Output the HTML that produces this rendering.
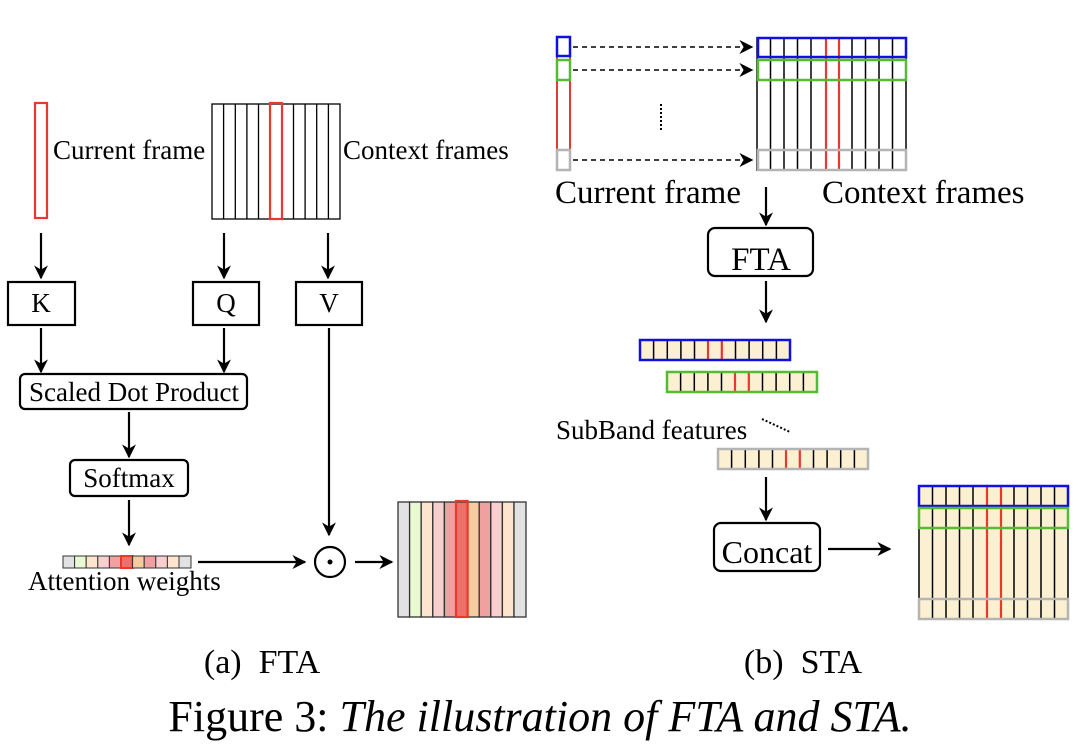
<!DOCTYPE html>
<html><head><meta charset="utf-8"><style>
html,body{margin:0;padding:0;background:#fff}
svg{display:block}
text{font-family:"Liberation Serif",serif;fill:#000}
</style></head><body>
<svg width="1080" height="748" viewBox="0 0 1080 748" xmlns="http://www.w3.org/2000/svg">
<defs>
<marker id="ah2" viewBox="0 0 10 10" refX="9" refY="5" markerWidth="14" markerHeight="14" markerUnits="userSpaceOnUse" orient="auto"><path d="M0,0 L10,5 L0,10 L3,5 z" fill="#000"/></marker>
<g id="sb">
<rect x="0" y="0" width="150" height="20" fill="#fcf0d2"/>
<g stroke="#000" stroke-width="1.5">
<line x1="13.6" y1="0" x2="13.6" y2="20"/><line x1="27.3" y1="0" x2="27.3" y2="20"/><line x1="40.9" y1="0" x2="40.9" y2="20"/><line x1="54.5" y1="0" x2="54.5" y2="20"/><line x1="81.8" y1="0" x2="81.8" y2="20"/><line x1="95.5" y1="0" x2="95.5" y2="20"/><line x1="109.1" y1="0" x2="109.1" y2="20"/><line x1="122.7" y1="0" x2="122.7" y2="20"/><line x1="136.4" y1="0" x2="136.4" y2="20"/>
</g>
<line x1="68" y1="0" x2="68" y2="20" stroke="#e8392c" stroke-width="2.2"/>
<line x1="81.8" y1="0" x2="81.8" y2="20" stroke="#e8392c" stroke-width="2.2"/>
</g>
</defs>
<g stroke="#000" stroke-width="2.2" fill="none">
<rect x="35" y="103" width="12" height="115" stroke="#e8392c"/>
<rect x="212" y="104" width="128" height="115" stroke-width="1.3"/>
<g stroke-width="1.3">
<line x1="223.6" y1="104" x2="223.6" y2="219"/><line x1="235.3" y1="104" x2="235.3" y2="219"/><line x1="246.9" y1="104" x2="246.9" y2="219"/><line x1="258.5" y1="104" x2="258.5" y2="219"/><line x1="270.2" y1="104" x2="270.2" y2="219"/><line x1="281.8" y1="104" x2="281.8" y2="219"/><line x1="293.5" y1="104" x2="293.5" y2="219"/><line x1="305.1" y1="104" x2="305.1" y2="219"/><line x1="316.7" y1="104" x2="316.7" y2="219"/><line x1="328.4" y1="104" x2="328.4" y2="219"/>
</g>
<rect x="270" y="103" width="12" height="116" stroke="#e8392c"/>
<line x1="41" y1="233" x2="41" y2="278" marker-end="url(#ah2)"/>
<line x1="224" y1="233" x2="224" y2="278" marker-end="url(#ah2)"/>
<line x1="328" y1="233" x2="328" y2="278" marker-end="url(#ah2)"/>
<rect x="8" y="282" width="67" height="43"/>
<rect x="193" y="282" width="66" height="43"/>
<rect x="296" y="282" width="66" height="43"/>
<line x1="41" y1="328" x2="41" y2="372" marker-end="url(#ah2)"/>
<line x1="224" y1="328" x2="224" y2="372" marker-end="url(#ah2)"/>
<rect x="20" y="374" width="227" height="35" rx="5"/>
<line x1="129" y1="412" x2="129" y2="457" marker-end="url(#ah2)"/>
<rect x="70" y="460" width="118" height="36" rx="5"/>
<line x1="129" y1="500" x2="129" y2="545" marker-end="url(#ah2)"/>
<line x1="329" y1="328" x2="329" y2="535" marker-end="url(#ah2)"/>
<line x1="198" y1="562" x2="305" y2="562" marker-end="url(#ah2)"/>
<circle cx="330" cy="562" r="15"/>
<line x1="355" y1="562" x2="392" y2="562" marker-end="url(#ah2)"/>
</g>
<circle cx="330" cy="562" r="2.5" fill="#000"/>
<g stroke="#333" stroke-width="1">
<rect x="63" y="556" width="11.6" height="12" fill="#e2e2e2"/>
<rect x="74.6" y="556" width="11.6" height="12" fill="#e9f9d2"/>
<rect x="86.2" y="556" width="11.6" height="12" fill="#fce5cc"/>
<rect x="97.8" y="556" width="11.6" height="12" fill="#f8cfcf"/>
<rect x="109.4" y="556" width="11.6" height="12" fill="#f0a0a0"/>
<rect x="121" y="556" width="11.6" height="12" fill="#ee706a" stroke="#e8392c" stroke-width="2"/>
<rect x="132.6" y="556" width="11.6" height="12" fill="#f6cba0"/>
<rect x="144.2" y="556" width="11.6" height="12" fill="#f0a0a0"/>
<rect x="155.8" y="556" width="11.6" height="12" fill="#f8cfcf"/>
<rect x="167.4" y="556" width="11.6" height="12" fill="#fce5cc"/>
<rect x="179" y="556" width="12" height="12" fill="#e2e2e2"/>
</g>
<g stroke="#333" stroke-width="1.3">
<rect x="398" y="502" width="11.6" height="115" fill="#e2e2e2"/>
<rect x="409.6" y="502" width="11.6" height="115" fill="#e9f9d2"/>
<rect x="421.2" y="502" width="11.6" height="115" fill="#fce5cc"/>
<rect x="432.8" y="502" width="11.6" height="115" fill="#f8cfcf"/>
<rect x="444.4" y="502" width="11.6" height="115" fill="#f0a0a0"/>
<rect x="456" y="502" width="11.6" height="115" fill="#ee706a"/>
<rect x="467.6" y="502" width="11.6" height="115" fill="#f6cba0"/>
<rect x="479.2" y="502" width="11.6" height="115" fill="#f0a0a0"/>
<rect x="490.8" y="502" width="11.6" height="115" fill="#f8cfcf"/>
<rect x="502.4" y="502" width="11.6" height="115" fill="#fce5cc"/>
<rect x="514" y="502" width="12" height="115" fill="#e2e2e2"/>
</g>
<rect x="456" y="501" width="11.6" height="116" fill="none" stroke="#e8392c" stroke-width="2.2"/>
<text x="53" y="159" font-size="27">Current frame</text>
<text x="343" y="159" font-size="27">Context frames</text>
<text x="41" y="312" font-size="27" text-anchor="middle">K</text>
<text x="226" y="312" font-size="27" text-anchor="middle">Q</text>
<text x="329" y="312" font-size="27" text-anchor="middle">V</text>
<text x="134" y="401" font-size="27" text-anchor="middle">Scaled Dot Product</text>
<text x="129" y="487" font-size="27" text-anchor="middle">Softmax</text>
<text x="28" y="590" font-size="27">Attention weights</text>

<g fill="none">
<line x1="557" y1="57" x2="557" y2="150" stroke="#e8392c" stroke-width="2"/>
<line x1="570" y1="57" x2="570" y2="150" stroke="#e8392c" stroke-width="2"/>
<g stroke="#000" stroke-width="1.5" stroke-dasharray="5,4">
<line x1="573" y1="47" x2="752" y2="47" marker-end="url(#ah2)"/>
<line x1="573" y1="70" x2="752" y2="70" marker-end="url(#ah2)"/>
<line x1="573" y1="160" x2="752" y2="160" marker-end="url(#ah2)"/>
</g>
<line x1="661" y1="104" x2="661" y2="131" stroke="#000" stroke-width="2" stroke-dasharray="2,2"/>
<g stroke="#000" stroke-width="1.5">
<line x1="757" y1="37" x2="757" y2="171"/><line x1="770.5" y1="37" x2="770.5" y2="171"/><line x1="784" y1="37" x2="784" y2="171"/><line x1="797.5" y1="37" x2="797.5" y2="171"/><line x1="811" y1="37" x2="811" y2="171"/><line x1="852" y1="37" x2="852" y2="171"/><line x1="865.5" y1="37" x2="865.5" y2="171"/><line x1="879" y1="37" x2="879" y2="171"/><line x1="892.5" y1="37" x2="892.5" y2="171"/><line x1="906" y1="37" x2="906" y2="171"/>
</g>
<line x1="826" y1="37" x2="826" y2="171" stroke="#e8392c" stroke-width="2.2"/>
<line x1="839" y1="37" x2="839" y2="171" stroke="#e8392c" stroke-width="2.2"/>
<rect x="557" y="37" width="13" height="19" stroke="#1010e0" stroke-width="2.5"/>
<rect x="557" y="60" width="13" height="20" stroke="#55bb33" stroke-width="2.5"/>
<rect x="557" y="150" width="13" height="20" stroke="#b4b4b4" stroke-width="2.5"/>
<rect x="758" y="38" width="148" height="19" stroke="#1010e0" stroke-width="2.5"/>
<rect x="758" y="60" width="148" height="20" stroke="#55bb33" stroke-width="2.5"/>
<rect x="758" y="150" width="148" height="20" stroke="#b4b4b4" stroke-width="2.5"/>
</g>
<text x="555" y="203" font-size="33">Current frame</text>
<text x="822" y="203" font-size="33">Context frames</text>
<g stroke="#000" stroke-width="2.2" fill="none">
<line x1="766" y1="187" x2="766" y2="225" marker-end="url(#ah2)"/>
<rect x="708" y="228" width="105" height="48" rx="7"/>
<line x1="766" y1="281" x2="766" y2="322" marker-end="url(#ah2)"/>
<line x1="766" y1="477" x2="766" y2="520" marker-end="url(#ah2)"/>
<rect x="714" y="523" width="106" height="48" rx="7"/>
<line x1="828" y1="549" x2="890" y2="549" marker-end="url(#ah2)"/>
<line x1="762" y1="419" x2="790" y2="432" stroke-width="2" stroke-dasharray="2,2"/>
</g>
<text x="761" y="270" font-size="33" text-anchor="middle">FTA</text>
<text x="767" y="563" font-size="32" text-anchor="middle">Concat</text>
<text x="556" y="439" font-size="27">SubBand features</text>
<use href="#sb" x="640" y="340"/>
<rect x="640" y="340" width="150" height="20" fill="none" stroke="#1010e0" stroke-width="2.5"/>
<use href="#sb" x="667" y="372"/>
<rect x="667" y="372" width="150" height="20" fill="none" stroke="#55bb33" stroke-width="2.5"/>
<use href="#sb" x="718" y="449"/>
<rect x="718" y="449" width="150" height="20" fill="none" stroke="#b4b4b4" stroke-width="2.5"/>
<rect x="919" y="486" width="149" height="134" fill="#fcf0d2"/>
<g stroke="#000" stroke-width="1.5">
<line x1="919" y1="486" x2="919" y2="620"/><line x1="932.5" y1="486" x2="932.5" y2="620"/><line x1="946" y1="486" x2="946" y2="620"/><line x1="959.5" y1="486" x2="959.5" y2="620"/><line x1="973" y1="486" x2="973" y2="620"/><line x1="1014" y1="486" x2="1014" y2="620"/><line x1="1027.5" y1="486" x2="1027.5" y2="620"/><line x1="1041" y1="486" x2="1041" y2="620"/><line x1="1054.5" y1="486" x2="1054.5" y2="620"/><line x1="1068" y1="486" x2="1068" y2="620"/>
</g>
<line x1="987" y1="486" x2="987" y2="620" stroke="#e8392c" stroke-width="2.2"/>
<line x1="1001" y1="486" x2="1001" y2="620" stroke="#e8392c" stroke-width="2.2"/>
<rect x="919" y="486" width="149" height="20" fill="none" stroke="#1010e0" stroke-width="2.5"/>
<rect x="919" y="508" width="149" height="20" fill="none" stroke="#55bb33" stroke-width="2.5"/>
<rect x="919" y="599" width="149" height="20" fill="none" stroke="#b4b4b4" stroke-width="2.5"/>

<text x="262" y="673" font-size="34" text-anchor="middle" xml:space="preserve">(a)  FTA</text>
<text x="803" y="673" font-size="34" text-anchor="middle" xml:space="preserve">(b)  STA</text>
<text x="540" y="731" font-size="44" text-anchor="middle">Figure 3: <tspan font-style="italic">The illustration of FTA and STA.</tspan></text>
</svg>
</body></html>
